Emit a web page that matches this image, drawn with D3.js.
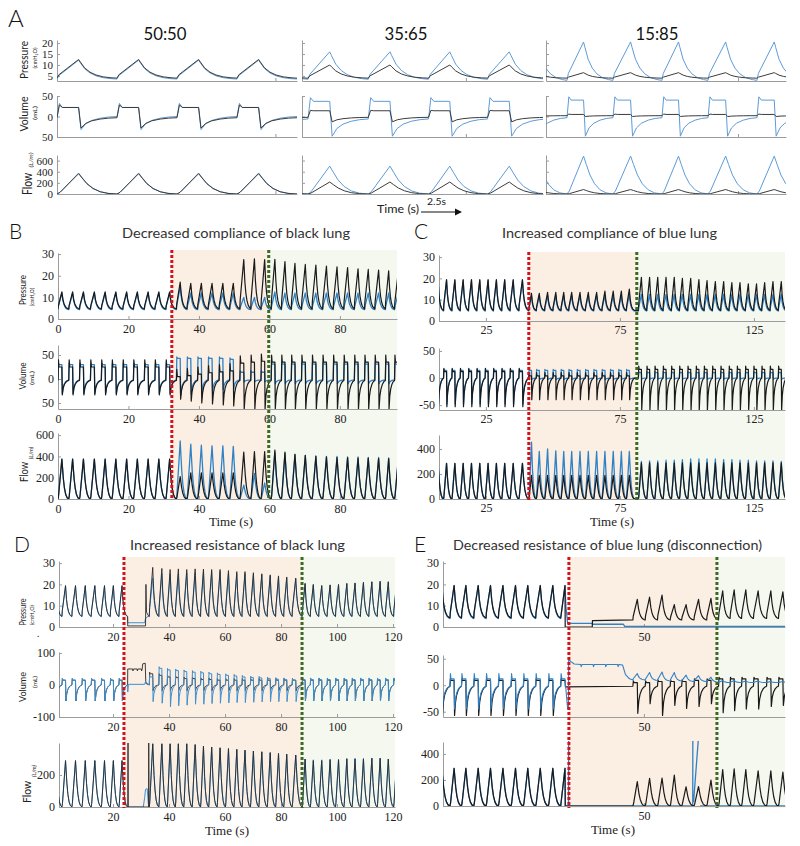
<!DOCTYPE html>
<html>
<head>
<meta charset="utf-8">
<script src="https://cdn.jsdelivr.net/npm/d3@7/dist/d3.min.js"></script>
<style>
html,body{margin:0;padding:0;background:#fff;}
svg{display:block;}
</style>
</head>
<body>
<script>
// ======================= DATA =======================
// ---- Panel A : three ventilation splits, one representative trace set each ----
const aConditions = ["50:50", "35:65", "15:85"];
const aOnsets = [[0, 2.5, 5, 7.5], [-2.25, 0.25, 2.75, 5.25, 7.7], [-1.1, 0.875, 2.79, 4.83, 6.75, 8.79]];
const aPeriod = [2.5, 2.5, 2.0];
const aPressBlack = [[4, 12.5], [4, 10], [4, 6.5]];        // [trough, peak]
const aPressBlue = [[3.6, 12.2], [3.5, 16], [3, 20.5]];
const aVolBlack = [[28, 22, -28, -3], [15, 14, -13, -2], [6, 5, 0, 2]]; // [spike, plateau, trough, end]
const aVolBlue = [[32, 22, -32, 0], [46, 37, -48, -6], [48, 40, -48, -3]];
const aFlowBlack = [365, 215, 80];
const aFlowBlue = [375, 500, 680];
const aXTick = [9.1, 6.8, 8.0];
const aPressTicks = [5, 10, 15, 20], aPressTickLabels = ["5", "10", "15", "20"];
const aVolTicks = [50, 0, -50], aVolTickLabels = ["50", "0", "50"];
const aFlowTicks = [0, 200, 400, 600], aFlowTickLabels = ["0", "200", "400", "600"];

// ---- Panel B : decreased compliance of black lung ----
const bEvents = [32.3, 59.8];
const bXTicks = [0, 20, 40, 60, 80], bXTickLabels = ["0", "20", "40", "60", "80"];
const bOnsets = [0,3.05,6.1,9.2,12.3,15.3,18.4,21.4,24.5,27.5,30.6, 33.6,36.6,39.6,42.6,45.7,48.7,51.6,54.7,57.6, 60.5,63.4,66.2,69.1,72.1,75.1,78.1,81.1,84.1,87.0,89.9,92.9,95.5];
const bPressBlack = [12.5,12.5,12.5,12.5,12.5,12.5,12.5,12.5,12.5,12.5,12.5, 17,16.5,16.5,16.5,16.5,16.5,27.5,27.8,27.5, 27.6,26.5,25.7,25.2,24.9,24.5,24.1,23.8,23.2,22.9,22.6,22.3,22];
const bPressBlue = [12,12,12,12,12,12,12,12,12,12,12, 15,12,12,12,12,12,10,10,10, 12.5,12,12,12,12,12,12,12,12,12,12,12,12];
const bVolBlackTop = [40,40,40,40,40,40,40,40,40,40,40, 20,22,25,28,30,32,48,50,52, 50,50,50,50,50,50,50,50,50,50,50,50,50];
const bVolBlackBot = [-33,-33,-33,-33,-33,-33,-33,-33,-33,-33,-33, -42,-46,-50,-52,-54,-56,-63,-63,-63, -63,-63,-63,-63,-63,-63,-63,-63,-63,-63,-63,-63,-63];
const bVolBlueTop = [33,33,33,33,33,33,33,33,33,33,33, 46,46,46,46,46,44,17,17,17, 34,34,34,34,34,34,34,34,34,34,34,34,34];
const bVolBlueBot = [-30,-30,-30,-30,-30,-30,-30,-30,-30,-30,-30, -35,-32,-28,-25,-22,-20,-6,-6,-6, -10,-10,-10,-10,-10,-10,-10,-10,-10,-10,-10,-10,-10];
const bFlowBlack = [375,375,375,375,375,375,375,375,375,375,375, 210,245,245,245,245,245,440,445,445, 460,440,420,410,400,395,390,390,385,385,380,380,380];
const bFlowBlue = [375,375,375,375,375,375,375,375,375,375,375, 545,515,505,500,500,495,130,240,150, 440,430,420,410,405,400,400,395,395,390,390,385,385];
const bPressTicks = [0, 10, 20, 30], bPressTickLabels = ["0", "10", "20", "30"];
const bVolTicks = [50, 0, -50], bVolTickLabels = ["50", "0", "50"];
const bFlowTicks = [0, 200, 400, 600], bFlowTickLabels = ["0", "200", "400", "600"];

// ---- Panel C : increased compliance of blue lung ----
const cEvents = [41, 81.3];
const cXTicks = [25, 75, 125], cXTickLabels = ["25", "75", "125"];
const cOnsets = [6.0,9.2,12.3,15.4,18.5,21.6,24.7,27.8,30.9,34.0,37.3, 41.0,43.8,46.9,50.0,53.0,55.9,59.0,62.1,65.2,68.3,71.4,74.5,77.4, 81.9,85.0,88.0,91.1,94.2,97.2,100.3,103.4,106.4,109.5,112.6,115.7,118.7,121.8,124.9,127.9,131.0,134.1];
const cPressBlack = [19,19.5,19.5,19.5,19.5,19.5,19.5,19.5,19.5,19.5,19.5, 13,13,13.5,13.5,13.5,13.5,13.5,13.5,13.5,14,14,14,15, 20.5,20.5,20.5,20.5,20.5,20,20,19.5,19,18.5,18.5,18,18,17.5,17.5,18,18.5,18.5];
const cPressBlue = [18.5,19,19,19,19,19,19,19,19,19,19, 12,12,12,12,12,12,12,12,12,12,12,12,12.5, 12.5,12.5,12.5,12.5,12.5,12.5,12.5,12.5,12.5,12.5,12.5,12.5,12.5,12.5,12.5,12.5,12.5,12.5];
const cVolBlackTop = [18,18,18,18,18,18,18,18,18,18,18, 10,10,10,10,10,10,10,10,10,10,10,10,10, 22,22,22,22,22,22,22,22,22,22,22,22,22,22,22,22,22,22];
const cVolBlackBot = [-53,-53,-53,-53,-53,-53,-53,-53,-53,-53,-53, -40,-40,-40,-40,-40,-40,-40,-40,-40,-40,-40,-40,-40, -60,-60,-60,-60,-60,-60,-60,-60,-60,-60,-60,-60,-60,-60,-60,-60,-60,-60];
const cVolBlueTop = [16,16,16,16,16,16,16,16,16,16,16, 16,16,16,16,16,16,16,16,16,16,16,16,16, 12,12,12,12,12,12,12,12,12,12,12,12,12,12,12,12,12,12];
const cVolBlueBot = [-48,-48,-48,-48,-48,-48,-48,-48,-48,-48,-48, -3,-3,-3,-3,-3,-3,-3,-3,-3,-3,-3,-3,-3, -2,-2,-2,-2,-2,-2,-2,-2,-2,-2,-2,-2,-2,-2,-2,-2,-2,-2];
const cFlowBlack = [285,285,285,285,285,285,285,285,285,285,285, 190,190,190,190,190,190,190,190,190,190,190,190,190, 290,290,290,290,290,290,290,290,290,290,290,290,290,290,290,290,290,290];
const cFlowBlue = [285,285,285,285,285,285,285,285,285,285,285, 455,380,400,385,380,380,380,380,380,380,380,380,380, 300,305,305,310,310,315,320,320,320,320,315,315,310,310,305,305,305,300];
const cPressTicks = [0, 10, 20, 30], cPressTickLabels = ["0", "10", "20", "30"];
const cVolTicks = [50, 0, -50], cVolTickLabels = ["50", "0", "-50"];
const cFlowTicks = [0, 200, 400], cFlowTickLabels = ["0", "200", "400"];

// ---- Panel D : increased resistance of black lung ----
const dEvents = [23.9, 87.5];
const dXTicks = [20, 40, 60, 80, 100, 120], dXTickLabels = ["20", "40", "60", "80", "100", "120"];
const dOnsets = [-1.5,1.76,5.3,8.9,12.2,15.8,19.0,22.1, 32.95,36.35,39.35,42.25,45.25,48.25,51.25,54.15,57.15,60.15,63.15,66.05,69.05,72.05,75.05,78.05,80.95,83.95, 87.55,90.45,93.45,96.45,99.45,102.45,105.35,108.35,111.35,114.35,117.25,120.2];
const dPressBlack = [19.5,19.5,19.5,19.5,19.5,19.5,19.5,19.5, 28,27.5,27,27.3,27,27.3,27.2,27,27,26.5,26,26,25.5,25,24.5,24,23.5,23, 20.5,20,19.5,19.8,20,20.5,20.7,21,21.3,21.5,21.3,21];
const dPressBlue = [19.2,19.2,19.2,19.2,19.2,19.2,19.2,19.2, 23,25,25,25,25.5,25.5,26,26,26,25.5,25,25,24.5,24.5,24,23.5,23,22.5, 20.3,19.8,19.3,19.6,19.8,20.3,20.5,20.8,21.1,21.3,21.1,20.8];
const dVolBlackTop = [20,20,20,20,20,20,20,20, 40,35,30,28,25,25,22,22,20,20,20,20,20,20,20,20,20,20, 20,20,20,20,20,20,20,20,20,20,20,20];
const dVolBlackBot = [-50,-50,-50,-50,-50,-50,-50,-50, -18,-18,-18,-18,-18,-18,-18,-18,-18,-18,-18,-18,-18,-18,-18,-18,-18,-18, -50,-50,-50,-50,-50,-50,-50,-50,-50,-50,-50,-50];
const dVolBlueTop = [20,20,20,20,20,20,20,20, 30,57,52,50,47,45,43,40,38,35,33,30,28,27,25,23,22,20, 22,22,22,22,22,22,22,22,22,22,22,22];
const dVolBlueBot = [-50,-50,-50,-50,-50,-50,-50,-50, -52,-57,-68,-65,-63,-60,-60,-58,-57,-56,-55,-55,-54,-53,-52,-52,-52,-52, -50,-50,-50,-50,-50,-50,-50,-50,-50,-50,-50,-50];
const dFlowBlack = [290,290,290,290,290,290,290,290, 395,395,395,395,395,390,380,375,370,365,360,355,350,345,340,335,330,325, 300,290,290,295,295,300,300,300,305,305,300,300];
const dFlowBlue = [290,290,290,290,290,290,290,290, 395,395,395,395,395,390,380,375,370,365,360,355,350,345,340,335,330,325, 300,295,295,300,300,305,305,305,305,305,300,300];
// occlusion episode (between breaths), [time, value]
const dPressBlackGap = [[25.25,0.5],[31.6,0.5],[31.75,20],[31.95,7],[32.5,5.5],[32.95,5]];
const dPressBlueGap = [[25.25,2],[31.3,2],[31.6,4],[32.5,5],[32.95,5]];
const dVolBlackGap = [[25.25,50],[27.0,50],[27.1,44],[27.3,50],[28.6,50],[28.7,44],[28.9,50],[30.1,50],[30.2,44],[30.4,50],[30.6,66],[31.5,68],[31.7,5],[32.95,0]];
const dVolBlueGap = [[25.25,-22],[25.5,2],[31.3,2],[31.6,10],[32.95,0]];
const dFlowBlackGap = [[25.25,0],[25.35,400],[25.45,0],[32.7,0],[32.75,400],[32.85,0]];
const dFlowBlueGap = [[25.25,0],[30.8,0],[31.3,60],[31.6,110],[32.2,115],[32.6,20],[32.95,0]];
const dPressTicks = [0, 10, 20, 30], dPressTickLabels = ["0", "10", "20", "30"];
const dVolTicks = [100, 0, -100], dVolTickLabels = ["100", "0", "-100"];
const dFlowTicks = [0, 200], dFlowTickLabels = ["0", "200"];

// ---- Panel E : decreased resistance of blue lung (disconnection) ----
const eEvents = [31.7, 67.8];
const eXTicks = [50], eXTickLabels = ["50"];
const eOnsets = [-0.4,2.7,5.5,8.5,11.5,14.5,17.6,20.6,23.6,26.7,29.7, 47.3,50.3,53.3,56.4,59.2,62.2,65.3, 68.2,71.0,73.8,76.7,79.9,82.8];
const ePressBlack = [19.5,19.5,19.5,19.5,19.5,19.5,19.5,19.5,19.5,19.5,null, 13,14,15,10.5,10.5,13,13.5, 17,17.5,17.5,17,17,16.5];
const ePressBlackLow = [4.3,4.3,4.3,4.3,4.3,4.3,4.3,4.3,4.3,4.3,4.3, 3.3,3.3,3.3,3.3,3.3,3.3,3.3, 4,4,4,4,4,4];
const ePressBlue = [19.5,19.5,19.5,19.5,19.5,19.5,19.5,19.5,19.5,19.5,null, null,null,null,null,null,null,null, null,null,null,null,null,null];
const eVolBlackTop = [12,12,12,12,12,12,12,12,12,12,null, 8,8,10,10,10,12,12, 15,15,15,15,15,15];
const eVolBlackBot = [-57,-57,-57,-57,-57,-57,-57,-57,-57,-57,null, -53,-35,-57,-38,-44,-40,-35, -52,-48,-45,-45,-40,-38];
const eVolBlueTop = [22,22,22,22,22,22,22,22,22,22,null, null,null,null,null,null,null,null, null,null,null,null,null,null];
const eVolBlueBumpLo = [null,null,null,null,null,null,null,null,null,null,null, 10,9,8,8,7,7,6, 5,5,5,5,5,5];
const eVolBlueBumpHi = [null,null,null,null,null,null,null,null,null,null,null, 22,24,25,24,19,18,15, 9,9,8,8,7,7];
const eFlowBlack = [290,290,290,290,290,290,290,290,290,290,null, 187,213,215,238,148,150,200, 280,285,280,270,270,260];
const eFlowBlue = [290,290,290,290,290,290,290,290,290,290,null, null,null,null,null,null,null,null, null,null,null,null,null,null];
const ePressBlackGap = [[29.7,4.3],[30.75,19.5],[30.8,0],[37.4,0],[37.45,3],[47.3,3.3]];
const ePressBlueGap = [[29.7,4],[30.75,19.5],[31.0,9],[31.4,1.7],[37.4,1.7],[37.45,1.3],[45.0,1.3],[45.3,0.3],[84.5,0.3]];
const eVolBlackGap = [[29.7,-2],[29.8,12],[29.95,9],[30.75,9],[30.85,-3],[47.3,-2]];
const eVolBlueGap = [[29.7,-2],[29.8,22],[30.0,12],[30.75,12],[31.4,-45],[31.6,-45],[31.65,48],[32.3,44],[33.0,40],[34.6,39],[34.7,35],[34.9,39],[37.6,39],[37.7,35],[37.9,39],[40.6,39],[40.7,35],[40.9,39],[43.6,39],[43.7,35],[43.9,39],[44.8,38],[45.5,20],[46.5,12],[47.3,10]];
const eFlowBlackGap = [[29.7,0],[30.75,290],[30.8,0],[47.3,0]];
const eFlowBlueGap = [[29.7,0],[30.75,290],[30.85,0],[31.6,0],[31.65,650],[31.66,null],[31.7,0],[61.9,0],[61.93,650],[61.95,null],[62.1,30],[63.6,650],[63.65,null],[63.7,0],[84.5,0]];
const ePressTicks = [0, 10, 20, 30], ePressTickLabels = ["0", "10", "20", "30"];
const eVolTicks = [50, 0, -50], eVolTickLabels = ["50", "0", "-50"];
const eFlowTicks = [0, 200, 400], eFlowTickLabels = ["0", "200", "400"];

// normalised single-breath shapes: [phase of breath, fraction of amplitude]
const pressShape = [[0,0],[0.03,0.18],[0.36,1],[0.39,0.86],[0.46,0.55],[0.55,0.32],[0.65,0.17],[0.77,0.07],[0.9,0.02],[1,0]];
const flowShape = [[0,0],[0.05,0.08],[0.36,1],[0.42,0.78],[0.5,0.5],[0.6,0.27],[0.72,0.11],[0.85,0.03],[1,0]];
const volRecovery = [[0.48,0.45],[0.58,0.7],[0.72,0.87],[0.86,0.96],[1,1]];

// ======================= BUILD =======================
const at = (a, i) => Array.isArray(a) ? a[i] : a;
function breaths(onsets, period, kind, p) {
  const pts = [];
  onsets.forEach((t0, i) => {
    const hi = at(p.hi, i);
    if (hi === null || hi === undefined) return;
    const nx = onsets[i + 1];
    const T = (nx !== undefined && nx - t0 < period * 1.4) ? nx - t0 : period;
    if (kind === "press") {
      const lo = at(p.lo, i);
      pressShape.forEach(([f, g]) => pts.push([t0 + f * T, lo + g * (hi - lo)]));
    } else if (kind === "flow") {
      flowShape.forEach(([f, g]) => pts.push([t0 + f * T, g * hi]));
    } else {
      const plat = hi - at(p.drop, i), bot = at(p.lo, i), end = at(p.end, i);
      pts.push([t0, end], [t0 + 0.04 * T, hi], [t0 + 0.09 * T, plat], [t0 + 0.36 * T, plat], [t0 + 0.40 * T, bot]);
      volRecovery.forEach(([f, g]) => pts.push([t0 + f * T, bot + g * (end - bot)]));
    }
  });
  return pts;
}
const combine = (...parts) => parts.flat().sort((a, b) => a[0] - b[0]);

// ======================= DRAW =======================
const svg = d3.select("body").append("svg").attr("width", 800).attr("height", 846);
const defs = svg.append("defs");
const Lshade = svg.append("g"), Laxes = svg.append("g"), Llines = svg.append("g"), Levents = svg.append("g"), Ltext = svg.append("g");
let clipN = 0;
const SANS = "Lato, 'Noto Sans', sans-serif";
const SERIF = "'Liberation Serif', 'DejaVu Serif', serif";
const AXIS = "#9c9c9c";
const PEACH = "#fbeee3", PALEGREEN = "#f5f8ef", RED = "#d3121b", GREEN = "#3b6a24";

function drawRow(xs, ys, row, st) {
  const x0 = xs.range()[0], x1 = xs.range()[1], yb = ys.range()[0], yt = ys.range()[1];
  const ay = d3.axisLeft(ys).tickValues(row.yTicks).tickFormat((d, i) => row.yLabels ? row.yLabels[i] : "")
    .tickSizeInner(-3).tickSizeOuter(0).tickPadding(st.yPad);
  const ax = d3.axisBottom(xs).tickValues(row.xTicks || []).tickFormat((d, i) => row.xLabels ? row.xLabels[i] : "")
    .tickSizeInner(-3).tickSizeOuter(0).tickPadding(st.xPad);
  const gy = Laxes.append("g").attr("transform", `translate(${x0},0)`).call(ay);
  const gx = Laxes.append("g").attr("transform", `translate(0,${yb})`).call(ax);
  [gy, gx].forEach(g => {
    g.attr("font-family", SERIF).attr("font-size", st.fs);
    g.select(".domain").attr("stroke", AXIS);
    g.selectAll(".tick line").attr("stroke", AXIS);
    g.selectAll(".tick text").attr("fill", "#222");
  });
  const id = "clip" + (clipN++);
  defs.append("clipPath").attr("id", id).append("rect")
    .attr("x", x0).attr("y", yt - 1).attr("width", x1 - x0).attr("height", yb - yt + 1);
  const ln = d3.line().defined(d => d[1] !== null).x(d => xs(d[0])).y(d => ys(d[1]));
  row.series.forEach(s => Llines.append("path").attr("d", ln(s.pts)).attr("fill", "none")
    .attr("stroke", s.color).attr("stroke-width", s.w).attr("stroke-linejoin", "round")
    .attr("clip-path", `url(#${id})`));
}

function drawEvents(xs, ev, top, bottom) {
  Lshade.append("rect").attr("x", xs(ev[0])).attr("y", top).attr("width", xs(ev[1]) - xs(ev[0]))
    .attr("height", bottom - top).attr("fill", PEACH);
  Lshade.append("rect").attr("x", xs(ev[1])).attr("y", top).attr("width", xs.range()[1] - xs(ev[1]))
    .attr("height", bottom - top).attr("fill", PALEGREEN);
  [[ev[0], RED], [ev[1], GREEN]].forEach(([t, c]) => Levents.append("line")
    .attr("x1", xs(t)).attr("x2", xs(t)).attr("y1", top).attr("y2", bottom)
    .attr("stroke", c).attr("stroke-width", 3).attr("stroke-dasharray", "3 2"));
}

function txt(x, y, s, o = {}) {
  const t = Ltext.append("text").attr("x", x).attr("y", y).text(s)
    .attr("font-family", o.font || SANS).attr("font-size", o.size || 12).attr("fill", o.fill || "#222")
    .attr("text-anchor", o.anchor || "start");
  if (o.len) t.attr("textLength", o.len).attr("lengthAdjust", "spacingAndGlyphs");
  if (o.weight) t.attr("font-weight", o.weight);
  if (o.style) t.attr("font-style", o.style);
  if (o.rot) t.attr("transform", `rotate(-90,${x},${y})`);
  return t;
}

// ---------- Panel A ----------
const A_BLACK = "#3c3c3c", A_BLUE = "#5e9bd6";
const aXRange = [[57, 297], [302, 543], [546, 786]];
const aTitleX = [165, 406, 657];
aConditions.forEach((cond, k) => {
  const xs = d3.scaleLinear().domain([0, 10]).range(aXRange[k]);
  const yP = d3.scaleLinear().domain([2.7, 21.4]).range([81, 40]);
  const yV = d3.scaleLinear().domain([-50, 50]).range([137, 96]);
  const yF = d3.scaleLinear().domain([0, 700]).range([194, 155]);
  const on = aOnsets[k], T = aPeriod[k];
  const vb = aVolBlack[k], vu = aVolBlue[k];
  const st = { fs: 11, yPad: 4, xPad: 3 };
  drawRow(xs, yP, { yTicks: aPressTicks, yLabels: k === 0 ? aPressTickLabels : null, xTicks: [aXTick[k]], series: [
    { pts: breaths(on, T, "press", { lo: aPressBlue[k][0], hi: aPressBlue[k][1] }), color: A_BLUE, w: 1 },
    { pts: breaths(on, T, "press", { lo: aPressBlack[k][0], hi: aPressBlack[k][1] }), color: A_BLACK, w: 1 }] }, st);
  drawRow(xs, yV, { yTicks: aVolTicks, yLabels: k === 0 ? aVolTickLabels : null, xTicks: [aXTick[k]], series: [
    { pts: breaths(on, T, "vol", { hi: vu[0], drop: vu[0] - vu[1], lo: vu[2], end: vu[3] }), color: A_BLUE, w: 1 },
    { pts: breaths(on, T, "vol", { hi: vb[0], drop: vb[0] - vb[1], lo: vb[2], end: vb[3] }), color: A_BLACK, w: 1 }] }, st);
  drawRow(xs, yF, { yTicks: aFlowTicks, yLabels: k === 0 ? aFlowTickLabels : null, xTicks: [aXTick[k]], series: [
    { pts: breaths(on, T, "flow", { hi: aFlowBlue[k] }), color: A_BLUE, w: 1 },
    { pts: breaths(on, T, "flow", { hi: aFlowBlack[k] }), color: A_BLACK, w: 1 }] }, st);
  txt(aTitleX[k], 40, cond, { size: 18, anchor: "middle", len: 43, fill: "#111" });
});
txt(8, 27, "A", { size: 24, weight: 300, fill: "#111" });
txt(28, 60, "Pressure", { size: 11, anchor: "middle", len: 38, rot: true });
txt(37, 58, "(cmH₂O)", { size: 6, anchor: "middle", len: 21, rot: true });
txt(28, 114, "Volume", { size: 11, anchor: "middle", len: 35, rot: true });
txt(37, 113, "(mL)", { size: 6.5, anchor: "middle", len: 14, rot: true });
txt(32, 184, "Flow", { size: 12.5, anchor: "middle", len: 22, rot: true });
txt(33, 160, "(L/m)", { size: 6, anchor: "middle", len: 15, rot: true, style: "italic" });
txt(377, 213, "Time (s)", { size: 11.5, len: 42 });
txt(427, 205, "2.5s", { size: 9, len: 19 });
Ltext.append("line").attr("x1", 421).attr("x2", 456).attr("y1", 212).attr("y2", 212).attr("stroke", "#111").attr("stroke-width", 1);
Ltext.append("path").attr("d", "M455,208.5 L462,212 L455,215.5 Z").attr("fill", "#111");

// ---------- Panels B-E ----------
function panel(cfg) {
  const xs = d3.scaleLinear().domain(cfg.xDomain).range(cfg.xRange);
  drawEvents(xs, cfg.events, cfg.shade[0], cfg.shade[1]);
  cfg.rows.forEach(r => {
    const ys = d3.scaleLinear().domain(r.domain).range(r.range);
    drawRow(xs, ys, { yTicks: r.yTicks, yLabels: r.yLabels, xTicks: cfg.xTicks, xLabels: cfg.xTickLabels, series: r.series },
      { fs: 12, yPad: 4, xPad: cfg.xPad });
  });
}
const K = "#1a1a1a", U = "#2f82c6";

panel({
  xDomain: [0, 96.2], xRange: [58, 397], events: bEvents, shade: [250, 500], xTicks: bXTicks, xTickLabels: bXTickLabels, xPad: 5,
  rows: [
    { domain: [0, 30.5], range: [319, 253], yTicks: bPressTicks, yLabels: bPressTickLabels, series: [
      { pts: breaths(bOnsets, 3, "press", { hi: bPressBlue, lo: 4.3 }), color: U, w: 1.3 },
      { pts: breaths(bOnsets, 3, "press", { hi: bPressBlack, lo: 4.7 }), color: K, w: 1.2 }] },
    { domain: [-62.5, 70.8], range: [409, 345], yTicks: bVolTicks, yLabels: bVolTickLabels, series: [
      { pts: breaths(bOnsets, 3, "vol", { hi: bVolBlueTop, drop: 3, lo: bVolBlueBot, end: -2 }), color: U, w: 1.3 },
      { pts: breaths(bOnsets, 3, "vol", { hi: bVolBlackTop, drop: 15, lo: bVolBlackBot, end: -3 }), color: K, w: 1.2 }] },
    { domain: [0, 620], range: [499, 433], yTicks: bFlowTicks, yLabels: bFlowTickLabels, series: [
      { pts: breaths(bOnsets, 3, "flow", { hi: bFlowBlue }), color: U, w: 1.3 },
      { pts: breaths(bOnsets, 3, "flow", { hi: bFlowBlack }), color: K, w: 1.2 }] }
  ]
});

panel({
  xDomain: [7.5, 136.6], xRange: [439, 785], events: cEvents, shade: [252, 500], xTicks: cXTicks, xTickLabels: cXTickLabels, xPad: 4,
  rows: [
    { domain: [0, 31], range: [321, 255], yTicks: cPressTicks, yLabels: cPressTickLabels, series: [
      { pts: breaths(cOnsets, 3.1, "press", { hi: cPressBlue, lo: 4.7 }), color: U, w: 1.3 },
      { pts: breaths(cOnsets, 3.1, "press", { hi: cPressBlack, lo: 5 }), color: K, w: 1.2 }] },
    { domain: [-59, 55.5], range: [410, 348], yTicks: cVolTicks, yLabels: cVolTickLabels, series: [
      { pts: breaths(cOnsets, 3.1, "vol", { hi: cVolBlueTop, drop: 2, lo: cVolBlueBot, end: 0 }), color: U, w: 1.3 },
      { pts: breaths(cOnsets, 3.1, "vol", { hi: cVolBlackTop, drop: 6, lo: cVolBlackBot, end: 0 }), color: K, w: 1.2 }] },
    { domain: [0, 512], range: [499, 435], yTicks: cFlowTicks, yLabels: cFlowTickLabels, series: [
      { pts: breaths(cOnsets, 3.1, "flow", { hi: cFlowBlue }), color: U, w: 1.3 },
      { pts: breaths(cOnsets, 3.1, "flow", { hi: cFlowBlack }), color: K, w: 1.2 }] }
  ]
});

panel({
  xDomain: [0.7, 120.7], xRange: [59, 395], events: dEvents, shade: [557, 808], xTicks: dXTicks, xTickLabels: dXTickLabels, xPad: 5,
  rows: [
    { domain: [0, 31], range: [627, 561], yTicks: dPressTicks, yLabels: dPressTickLabels, series: [
      { pts: combine(breaths(dOnsets, 3.1, "press", { hi: dPressBlue, lo: 4.8 }), dPressBlueGap), color: "#3d8fd0", w: 1 },
      { pts: combine(breaths(dOnsets, 3.1, "press", { hi: dPressBlack, lo: 5 }), dPressBlackGap), color: "#2a2a2a", w: 0.9 }] },
    { domain: [-100, 103], range: [717, 652], yTicks: dVolTicks, yLabels: dVolTickLabels, series: [
      { pts: combine(breaths(dOnsets, 3.1, "vol", { hi: dVolBlackTop, drop: 5, lo: dVolBlackBot, end: 0 }), dVolBlackGap), color: "#2a2a2a", w: 0.9 },
      { pts: combine(breaths(dOnsets, 3.1, "vol", { hi: dVolBlueTop, drop: 5, lo: dVolBlueBot, end: 0 }), dVolBlueGap), color: "#3d8fd0", w: 1 }] },
    { domain: [0, 400], range: [807, 743], yTicks: dFlowTicks, yLabels: dFlowTickLabels, series: [
      { pts: combine(breaths(dOnsets, 3.1, "flow", { hi: dFlowBlue }), dFlowBlueGap), color: "#3d8fd0", w: 1 },
      { pts: combine(breaths(dOnsets, 3.1, "flow", { hi: dFlowBlack }), dFlowBlackGap), color: "#2a2a2a", w: 0.9 }] }
  ]
});

panel({
  xDomain: [1.0, 84.4], xRange: [443, 785], events: eEvents, shade: [557, 808], xTicks: eXTicks, xTickLabels: eXTickLabels, xPad: 5,
  rows: [
    { domain: [0, 31], range: [627, 561], yTicks: ePressTicks, yLabels: ePressTickLabels, series: [
      { pts: combine(breaths(eOnsets, 3, "press", { hi: ePressBlue, lo: 4 }), ePressBlueGap), color: U, w: 1.3 },
      { pts: combine(breaths(eOnsets, 3, "press", { hi: ePressBlack, lo: ePressBlackLow }), ePressBlackGap), color: K, w: 1.2 }] },
    { domain: [-60, 57], range: [717, 655], yTicks: eVolTicks, yLabels: eVolTickLabels, series: [
      { pts: combine(breaths(eOnsets, 3, "vol", { hi: eVolBlackTop, drop: 3, lo: eVolBlackBot, end: -2 }), eVolBlackGap), color: K, w: 1.2 },
      { pts: combine(breaths(eOnsets, 3, "vol", { hi: eVolBlueTop, drop: 10, lo: -45, end: -2 }),
                     breaths(eOnsets, 3, "press", { hi: eVolBlueBumpHi, lo: eVolBlueBumpLo }), eVolBlueGap), color: U, w: 1.1 }] },
    { domain: [0, 492], range: [806, 742], yTicks: eFlowTicks, yLabels: eFlowTickLabels, series: [
      { pts: combine(breaths(eOnsets, 3, "flow", { hi: eFlowBlue }), eFlowBlueGap), color: U, w: 1.3 },
      { pts: combine(breaths(eOnsets, 3, "flow", { hi: eFlowBlack }), eFlowBlackGap), color: K, w: 1.2 }] }
  ]
});

// ---------- texts B-E ----------
txt(9, 239, "B", { size: 21, weight: 300, fill: "#111" });
txt(236, 238, "Decreased compliance of black lung", { size: 14, anchor: "middle", len: 228, fill: "#333" });
txt(414, 239, "C", { size: 21, weight: 300, fill: "#111" });
txt(609.5, 238, "Increased compliance of blue lung", { size: 14, anchor: "middle", len: 215, fill: "#333" });
txt(14, 552, "D", { size: 21, weight: 300, fill: "#111" });
txt(237.5, 549.5, "Increased resistance of black lung", { size: 14, anchor: "middle", len: 215, fill: "#333" });
txt(414, 552, "E", { size: 21, weight: 300, fill: "#111" });
txt(607.5, 549.5, "Decreased resistance of blue lung (disconnection)", { size: 14, anchor: "middle", len: 309, fill: "#333" });

txt(25.5, 290, "Pressure", { size: 10, anchor: "middle", len: 30, rot: true });
txt(33.5, 297, "(cmH₂O)", { size: 5.5, anchor: "middle", len: 18, rot: true });
txt(25.5, 376, "Volume", { size: 10, anchor: "middle", len: 27, rot: true });
txt(34, 378, "(mL)", { size: 6.5, anchor: "middle", len: 14, rot: true });
txt(27.5, 472, "Flow", { size: 11, anchor: "middle", len: 20, rot: true });
txt(33, 453, "(L/m)", { size: 5.5, anchor: "middle", len: 12.5, rot: true, style: "italic" });

txt(25.5, 612, "Pressure", { size: 10, anchor: "middle", len: 27, rot: true });
txt(33.5, 615, "(cmH₂O)", { size: 5.5, anchor: "middle", len: 20, rot: true });
txt(37, 637, ".", { size: 10 });
txt(25.5, 687, "Volume", { size: 10, anchor: "middle", len: 30, rot: true });
txt(37, 682, "(mL)", { size: 6.5, anchor: "middle", len: 12, rot: true });
txt(31, 792, "Flow", { size: 11, anchor: "middle", len: 22, rot: true });
txt(36, 771, "(L/m)", { size: 5.5, anchor: "middle", len: 12, rot: true, style: "italic" });

txt(231, 526, "Time (s)", { font: SERIF, size: 13, anchor: "middle" });
txt(612, 526, "Time (s)", { font: SERIF, size: 13, anchor: "middle" });
txt(227, 835, "Time (s)", { font: SERIF, size: 13, anchor: "middle" });
txt(613, 834, "Time (s)", { font: SERIF, size: 13, anchor: "middle" });
</script>
</body>
</html>
